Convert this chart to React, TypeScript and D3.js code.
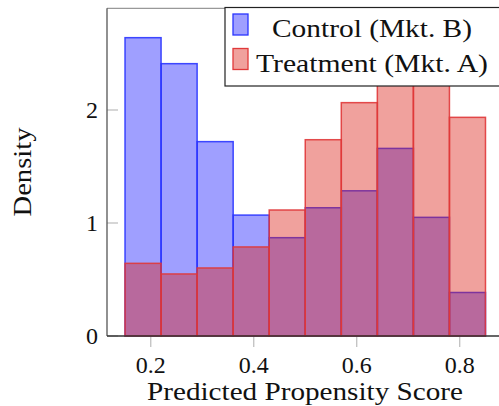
import React from "react";
import * as d3 from "d3";

// Histogram bins (propensity score), density per bin
const binEdges = [0.15, 0.22, 0.29, 0.36, 0.43, 0.5, 0.57, 0.64, 0.71, 0.78, 0.85];
const controlDensity = [2.64, 2.41, 1.72, 1.07, 0.87, 1.135, 1.285, 1.66, 1.05, 0.385];
const treatmentDensity = [0.643, 0.549, 0.602, 0.788, 1.115, 1.737, 2.065, 2.4, 2.45, 1.935];
const xTicks = [0.2, 0.4, 0.6, 0.8];
const yTicks = [0, 1, 2];
const seriesNames = ["Control (Mkt. B)", "Treatment (Mkt. A)"];

const W = 499;
const H = 406;
const FONT = "'Liberation Serif', 'Times New Roman', serif";

export default function App() {
  const x = d3.scaleLinear().domain([0.115, 0.885]).range([107, 503.5]);
  const y = d3.scaleLinear().domain([0, 2.9]).range([336, 8.3]);

  const series = [
    { name: seriesNames[0], values: controlDensity, color: "#1a1aff", stroke: "#2a35ff" },
    { name: seriesNames[1], values: treatmentDensity, color: "#dc1e16", stroke: "#e0393a" },
  ];

  const bars = (vals: number[], color: string, stroke: string, key: string) =>
    vals.map((v, i) => (
      <rect
        key={key + i}
        x={x(binEdges[i])}
        y={y(v)}
        width={x(binEdges[i + 1]) - x(binEdges[i])}
        height={y(0) - y(v)}
        fill={color}
        fillOpacity={0.42}
        stroke={stroke}
        strokeOpacity={0.9}
        strokeWidth={1.5}
      />
    ));

  const x0 = x.range()[0];
  const yTop = y.range()[1];

  return (
    <svg
      width={W}
      height={H}
      viewBox={`0 0 ${W} ${H}`}
      style={{ position: "absolute", left: 0, top: 0, background: "#fff" }}
      fontFamily={FONT}
    >
      {/* x ticks (below axis) */}
      {xTicks.map((t) => (
        <line key={"xt" + t} x1={x(t)} x2={x(t)} y1={y(0)} y2={y(0) + 11} stroke="#bbb" strokeWidth={1.2} />
      ))}
      {/* y ticks (inside) */}
      {yTicks.map((t) => (
        <line key={"yt" + t} x1={x0} x2={x0 + 11} y1={y(t)} y2={y(t)} stroke="#bbb" strokeWidth={1.2} />
      ))}

      {bars(series[0].values, series[0].color, series[0].stroke, "c")}
      {bars(series[1].values, series[1].color, series[1].stroke, "t")}

      {/* axis frame */}
      <line x1={x0} x2={W + 10} y1={yTop} y2={yTop} stroke="#999" strokeWidth={1.2} />
      <line x1={x0} x2={x0} y1={yTop} y2={y(0)} stroke="#555" strokeWidth={1.3} />
      <line x1={x0} x2={W + 10} y1={y(0)} y2={y(0)} stroke="#333" strokeWidth={1.3} />

      {/* tick labels */}
      {xTicks.map((t) => (
        <text key={"xl" + t} x={x(t)} y={373} textAnchor="middle" fontSize={24} fill="#111">
          {d3.format(".1f")(t)}
        </text>
      ))}
      {yTicks.map((t) => (
        <text key={"yl" + t} x={98} y={y(t)} dy="0.35em" textAnchor="end" fontSize={24} fill="#111">
          {t}
        </text>
      ))}

      {/* axis titles */}
      <text x={305} y={400} textAnchor="middle" fontSize={25} fill="#111" textLength={316} lengthAdjust="spacingAndGlyphs">
        Predicted Propensity Score
      </text>
      <text
        transform={`translate(31,172) rotate(-90)`}
        textAnchor="middle"
        fontSize={25}
        fill="#111"
        textLength={89}
        lengthAdjust="spacingAndGlyphs"
      >
        Density
      </text>

      {/* legend */}
      <g>
        <rect x={225} y={7.5} width={W + 20 - 225} height={78.5} fill="#fff" stroke="#222" strokeWidth={1.2} />
        {series.map((s, i) => (
          <g key={"lg" + i}>
            <rect
              x={233}
              y={14 + i * 34.5}
              width={15}
              height={21}
              fill={s.color}
              fillOpacity={0.42}
              stroke={s.stroke}
              strokeWidth={1.3}
            />
            <text
              x={372}
              y={37 + i * 34.5}
              textAnchor="middle"
              fontSize={25}
              fill="#111"
              textLength={i === 0 ? 200 : 232}
              lengthAdjust="spacingAndGlyphs"
            >
              {s.name}
            </text>
          </g>
        ))}
      </g>
    </svg>
  );
}
